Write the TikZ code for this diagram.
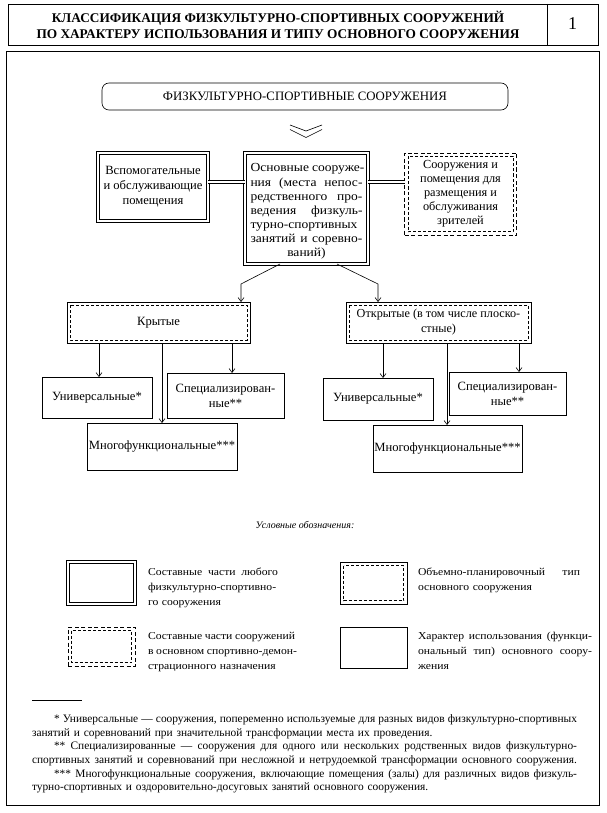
\documentclass[tikz,border=0pt]{standalone}
\usepackage{fontspec}
\setmainfont{Liberation Serif}
\newfontfamily\widefont{Liberation Serif}[FakeStretch=1.1]
\usetikzlibrary{arrows.meta,calc}
\newcommand\fs[2]{\fontsize{#1}{#2}\selectfont}
\newcommand\jl[1]{\par\noindent\hbox to\hsize{\spaceskip=.25em plus 1fill\relax#1\hfil}\par}
\newcommand\lfl[1]{\par\noindent\hbox to\hsize{#1\hfil}\par}
\newcommand\cnl[1]{\par\noindent\hbox to\hsize{\hfil#1\hfil}\par}
\begin{document}
\begin{tikzpicture}[x=1pt,y=-1pt,
  every node/.style={inner sep=0pt,outer sep=0pt},
  box/.style={draw,line width=0.6pt},
  dblbox/.style={draw,double,line width=0.55pt,double distance=2.2pt},
  ddbox/.style={draw,line width=0.6pt,dash pattern=on 4pt off 2.5pt},
  innerdash/.style={line width=0.5pt,dash pattern=on 3pt off 2pt},
  dblline/.style={draw,double,line width=0.5pt,double distance=2.4pt},
  arr/.style={line width=0.6pt,-{Straight Barb[length=4pt,width=6pt]}},
  ln/.style={line width=0.6pt},
  btxt/.style={font=\fs{12.6}{15},align=center},
  legtxt/.style={font=\widefont\fs{10.6}{15},anchor=north west},
]
\useasboundingbox (0,0) rectangle (607,813);
\fill[white] (0,0) rectangle (607,813);

% header
\node[box,minimum width=590,minimum height=41] (hdr) at (303,24.5) {};
\coordinate (dv) at (547,0);
\draw[ln] (hdr.north -| dv) -- (hdr.south -| dv);
\node[font=\bfseries\fs{13.3}{16},align=center] (title) at (278,25)
  {КЛАССИФИКАЦИЯ ФИЗКУЛЬТУРНО-СПОРТИВНЫХ СООРУЖЕНИЙ\\ПО ХАРАКТЕРУ ИСПОЛЬЗОВАНИЯ И ТИПУ ОСНОВНОГО СООРУЖЕНИЯ};
\node[font=\fs{18}{20}] (num) at (572.5,23.5) {1};

% main frame
\node[draw,line width=0.9pt,minimum width=593,minimum height=754] (frame) at (302.5,428) {};

% top box
\node[box,rounded corners=7pt,minimum width=406,minimum height=27,font=\fs{12.8}{14}] (top) at (305,96.5)
  {ФИЗКУЛЬТУРНО-СПОРТИВНЫЕ СООРУЖЕНИЯ};
% chevron
\draw[line width=0.6pt] (290,125) -- (306,131) -- (322,125);
\draw[line width=0.6pt] (290,129.5) -- (306,137.5) -- (322,129.5);

% second row
\node[dblbox,minimum width=110,minimum height=68,btxt,font=\fs{12.6}{15}] (aux) at (153,187)
  {Вспомогательные\\и обслуживающие\\помещения};
\node[dblbox,minimum width=123,minimum height=111,text width=112,font=\widefont\fs{12.3}{14.1}] (main) at (306.5,208.5)
  {\jl{Основные сооруже-}\jl{ния (места непос-}\jl{редственного про-}\jl{ведения физкуль-}\jl{турно-спортивных}\jl{занятий и соревно-}\cnl{ваний)}};
\node[ddbox,minimum width=112,minimum height=82,btxt,font=\fs{12.3}{14}] (spect) at (460.5,194)
  {Сооружения и\\помещения для\\размещения и\\обслуживания\\зрителей};
\draw[innerdash] ($(spect.north west)+(3.5,3.5)$) rectangle ($(spect.south east)+(-3.5,-3.5)$);

\coordinate (c1) at (0,182);
\draw[dblline] (aux.east |- c1) -- (main.west |- c1);
\draw[dblline] (main.east |- c1) -- (spect.west |- c1);

% third row
\node[box,minimum width=183,minimum height=41,btxt] (cov) at (158.5,322.5) {Крытые};
\draw[innerdash] ($(cov.north west)+(3,3)$) rectangle ($(cov.south east)+(-3,-3)$);
\node[box,minimum width=185,minimum height=41,btxt,font=\fs{12.2}{15}] (open) at (438.5,322.5)
  {Открытые (в том числе плоско-\\стные)};
\draw[innerdash] ($(open.north west)+(3,3)$) rectangle ($(open.south east)+(-3,-3)$);

\coordinate (e1) at (241,284);
\coordinate (e2) at (378,284);
\draw[arr] (main.south -| 280,0) -- (e1) -- (cov.north -| e1);
\draw[arr] (main.south -| 337,0) -- (e2) -- (open.north -| e2);

% bottom boxes left
\node[box,minimum width=110,minimum height=41,btxt] (u1) at (97,397.5) {Универсальные*};
\node[box,minimum width=117,minimum height=45,btxt] (s1) at (225.5,395.5) {Специализирован-\\ные**};
\node[box,minimum width=150,minimum height=47,btxt] (m1) at (162,446.5) {Многофункциональные***};
% bottom boxes right
\node[box,minimum width=110,minimum height=42,btxt] (u2) at (378,399) {Универсальные*};
\node[box,minimum width=117,minimum height=43,btxt] (s2) at (507.5,393.5) {Специализирован-\\ные**};
\node[box,minimum width=149,minimum height=47,btxt] (m2) at (447.5,448.5) {Многофункциональные***};

\coordinate (xa) at (99,0);
\coordinate (xb) at (162,0);
\coordinate (xc) at (232,0);
\coordinate (xd) at (383,0);
\coordinate (xe) at (447,0);
\coordinate (xf) at (519,0);
\draw[arr] (cov.south -| xa) -- (u1.north -| xa);
\draw[arr] (cov.south -| xb) -- (m1.north -| xb);
\draw[arr] (cov.south -| xc) -- (s1.north -| xc);
\draw[arr] (open.south -| xd) -- (u2.north -| xd);
\draw[arr] (open.south -| xe) -- (m2.north -| xe);
\draw[arr] (open.south -| xf) -- (s2.north -| xf);

% legend
\node[font=\itshape\fs{10}{12}] (legt) at (305,525) {Условные обозначения:};

\node[dblbox,minimum width=67,minimum height=42] (l1) at (101.5,583) {};
\node[legtxt,text width=130] (l1t) at (148,560)
  {\jl{Составные части любого}\jl{физкультурно-спортивно-}\lfl{го сооружения}};

\node[box,minimum width=67,minimum height=42] (l2) at (373.5,583) {};
\draw[innerdash] ($(l2.north west)+(3.5,3.5)$) rectangle ($(l2.south east)+(-3.5,-3.5)$);
\node[legtxt,text width=162] (l2t) at (418,560)
  {\jl{Объемно-планировочный тип}\lfl{основного сооружения}};

\node[ddbox,minimum width=67,minimum height=39] (l3) at (101.5,646.5) {};
\draw[innerdash] ($(l3.north west)+(3.5,3.5)$) rectangle ($(l3.south east)+(-3.5,-3.5)$);
\node[legtxt,text width=136] (l3t) at (148,624)
  {\jl{Составные части сооружений}\jl{в основном спортивно-демон-}\lfl{страционного назначения}};

\node[box,minimum width=67,minimum height=41] (l4) at (373.5,647.5) {};
\node[legtxt,text width=174] (l4t) at (418,624)
  {\jl{Характер использования (функци-}\jl{ональный тип) основного соору-}\lfl{жения}};

% footnotes
\coordinate (fr1) at (32,700);
\coordinate (fr2) at (82,700);
\draw[line width=0.6pt] (fr1) -- (fr2);
\node[anchor=north west,text width=545,font=\fs{11.4}{13.6}] (foot) at (32,709)
  {\jl{\hspace*{22pt}* Универсальные — сооружения, попеременно используемые для разных видов физкультурно-спортивных}%
   \lfl{занятий и соревнований при значительной трансформации места их проведения.}%
   \jl{\hspace*{22pt}** Специализированные — сооружения для одного или нескольких родственных видов физкультурно-}%
   \jl{спортивных занятий и соревнований при несложной и нетрудоемкой трансформации основного сооружения.}%
   \jl{\hspace*{22pt}*** Многофункциональные сооружения, включающие помещения (залы) для различных видов физкуль-}%
   \lfl{турно-спортивных и оздоровительно-досуговых занятий основного сооружения.}};
\end{tikzpicture}
\end{document}
